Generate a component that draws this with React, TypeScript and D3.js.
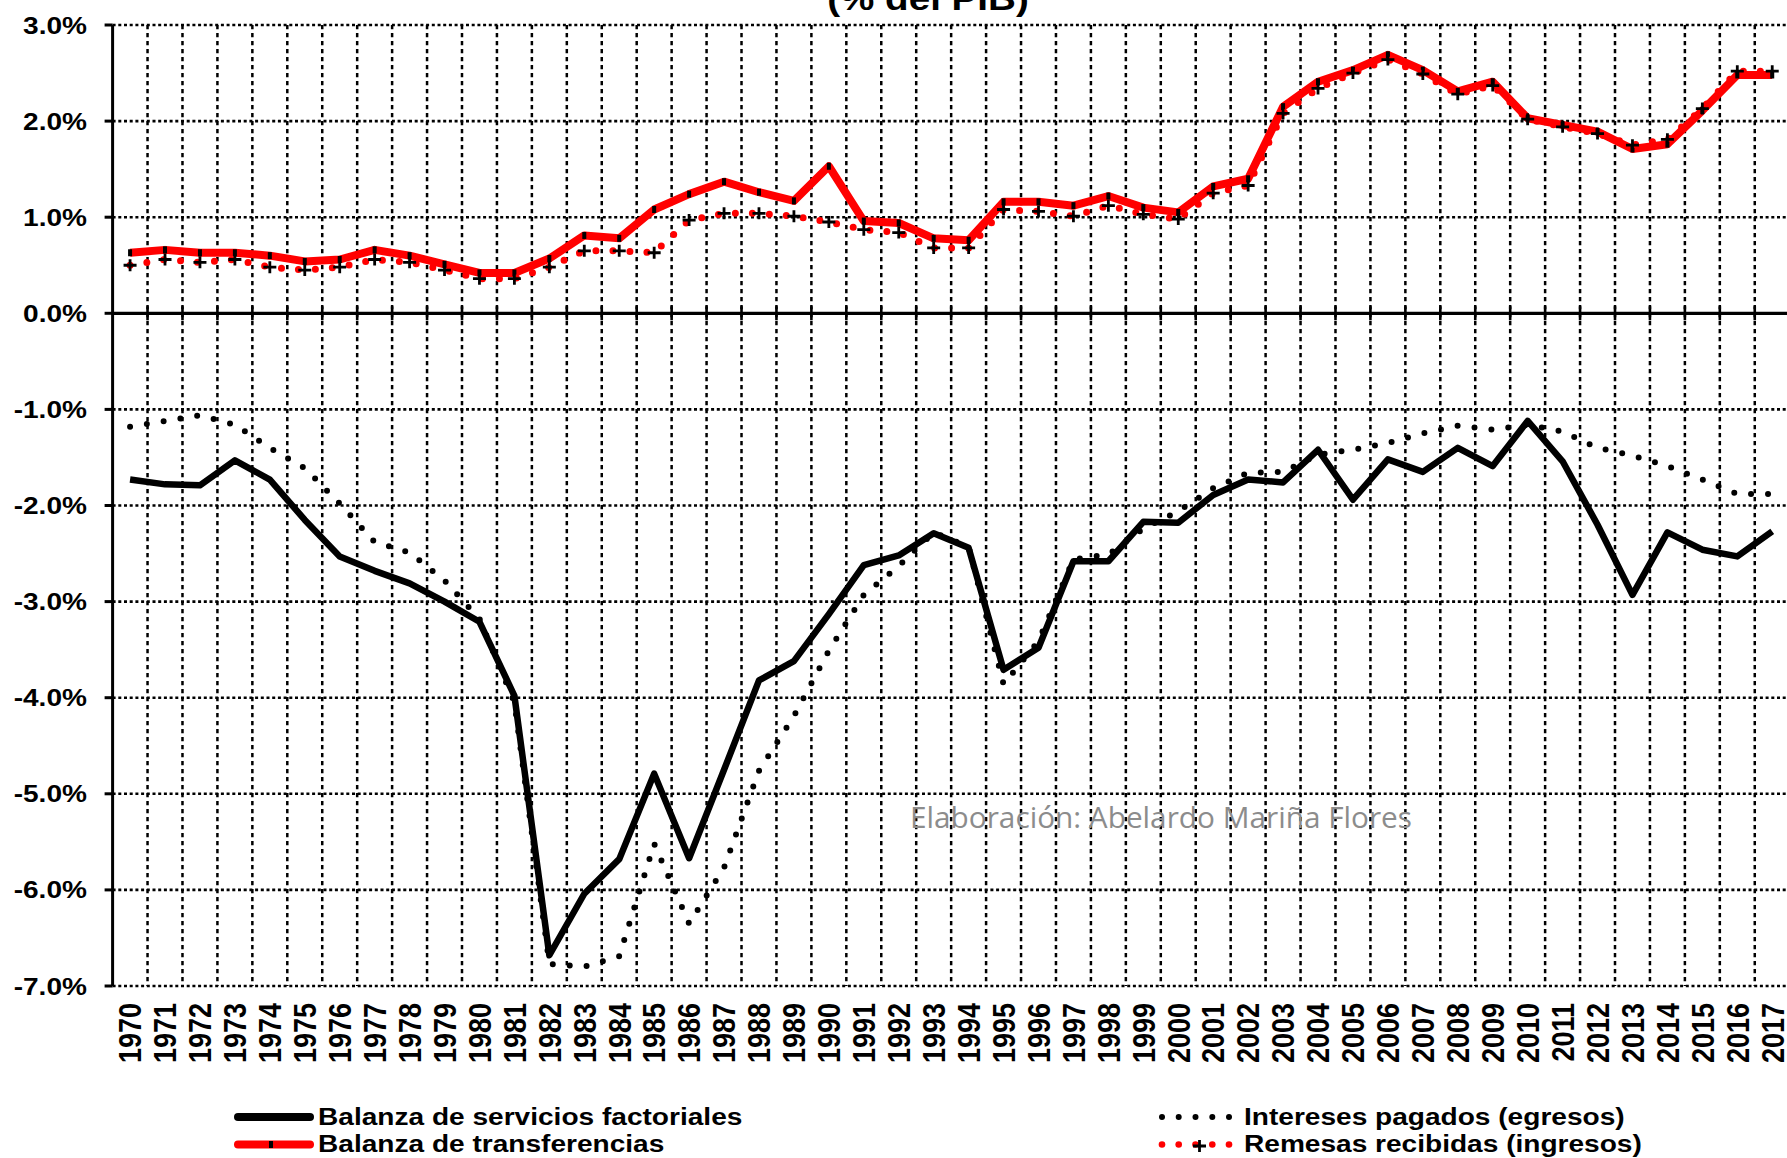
import React from "react";
import * as d3 from "d3";

const years = d3.range(1970, 2018).map(String);

// Balanza de servicios factoriales (% del PIB)
const servicios = [
  -1.73, -1.78, -1.79, -1.53, -1.73, -2.15, -2.53, -2.68, -2.81, -3.0,
  -3.21, -3.98, -6.68, -6.04, -5.68, -4.79, -5.67, -4.75, -3.82, -3.62,
  -3.13, -2.62, -2.52, -2.29, -2.44, -3.71, -3.48, -2.58, -2.58, -2.17,
  -2.18, -1.89, -1.73, -1.76, -1.42, -1.94, -1.52, -1.65, -1.4, -1.59,
  -1.12, -1.54, -2.2, -2.93, -2.28, -2.46, -2.53, -2.27,
];

// Balanza de transferencias
const transferencias = [
  0.63, 0.66, 0.63, 0.63, 0.6, 0.54, 0.56, 0.66, 0.6, 0.51,
  0.42, 0.42, 0.57, 0.81, 0.78, 1.08, 1.24, 1.37, 1.26, 1.17,
  1.53, 0.96, 0.94, 0.78, 0.76, 1.16, 1.16, 1.12, 1.22, 1.1,
  1.05, 1.32, 1.4, 2.15, 2.41, 2.53, 2.69, 2.53, 2.31, 2.41,
  2.03, 1.96, 1.89, 1.71, 1.76, 2.11, 2.48, 2.48,
];

// Intereses pagados (egresos)
const intereses = [
  -1.18, -1.12, -1.06, -1.16, -1.4, -1.61, -1.98, -2.38, -2.49, -2.78,
  -3.18, -4.05, -6.77, -6.8, -6.69, -5.52, -6.35, -5.77, -4.76, -4.19,
  -3.51, -2.93, -2.63, -2.28, -2.43, -3.86, -3.41, -2.56, -2.51, -2.24,
  -2.06, -1.82, -1.66, -1.65, -1.47, -1.42, -1.35, -1.25, -1.17, -1.21,
  -1.16, -1.23, -1.4, -1.48, -1.59, -1.73, -1.88, -1.88,
];

// Remesas recibidas (ingresos)
const remesas = [
  0.5, 0.56, 0.53, 0.56, 0.48, 0.45, 0.48, 0.56, 0.53, 0.45,
  0.36, 0.36, 0.48, 0.65, 0.65, 0.63, 0.97, 1.04, 1.04, 1.01,
  0.95, 0.87, 0.84, 0.68, 0.68, 1.08, 1.06, 1.01, 1.12, 1.03,
  0.98, 1.25, 1.33, 2.08, 2.34, 2.5, 2.64, 2.49, 2.28, 2.37,
  2.02, 1.94, 1.87, 1.75, 1.81, 2.13, 2.52, 2.52,
];

const yTicks = [3, 2, 1, 0, -1, -2, -3, -4, -5, -6, -7];

const W = 1787;
const H = 1158;
const FONT = "'Liberation Sans', Arial, sans-serif";
const SX = 1.17; // horizontal stretch of the original picture

const x = d3.scaleBand().domain(years).range([112.6, 1789.7]).padding(0);
const y = d3.scaleLinear().domain([-7, 3]).range([986, 25]);
const cx = (yr: string) => (x(yr) as number) + x.bandwidth() / 2;

const lineGen = d3
  .line<number>()
  .x((_, i) => cx(years[i]))
  .y((d) => y(d));

const App = () => {
  const left = x.range()[0];
  const boundaries = years.slice(1).map((yr) => x(yr) as number);
  return (
    <svg
      width={W}
      height={H}
      style={{ position: "absolute", left: 0, top: 0, background: "#fff" }}
      fontFamily={FONT}
    >
      {/* title, cut off at top */}
      <g transform={`translate(928,10) scale(${SX},1)`}>
        <text textAnchor="middle" fontSize={33} fontWeight="bold">
          (% del PIB)
        </text>
      </g>

      {/* horizontal gridlines */}
      {yTicks.map((t) => (
        <line
          key={"h" + t}
          x1={left}
          x2={W}
          y1={y(t)}
          y2={y(t)}
          stroke="#000"
          strokeWidth={2.6}
          strokeDasharray="3 2.7"
        />
      ))}
      {/* vertical gridlines */}
      {boundaries.map((bx, i) => (
        <line
          key={"v" + i}
          x1={bx}
          x2={bx}
          y1={y(3)}
          y2={y(-7)}
          stroke="#000"
          strokeWidth={2.5}
          strokeDasharray="4.3 3.7"
        />
      ))}

      {/* zero axis with crossing ticks */}
      <line x1={left} x2={W} y1={y(0)} y2={y(0)} stroke="#000" strokeWidth={3.2} />
      {boundaries.map((bx, i) => (
        <line key={"zt" + i} x1={bx} x2={bx} y1={y(0) - 7} y2={y(0) + 7} stroke="#000" strokeWidth={2.6} />
      ))}

      {/* y axis */}
      <line x1={left} x2={left} y1={y(3)} y2={y(-7)} stroke="#000" strokeWidth={3} />
      {yTicks.map((t) => (
        <g key={"yt" + t}>
          <line x1={left - 8} x2={left} y1={y(t)} y2={y(t)} stroke="#000" strokeWidth={3} />
          <g transform={`translate(87,${y(t) + 8.5}) scale(${SX},1)`}>
            <text textAnchor="end" fontSize={24} fontWeight="bold">
              {t.toFixed(1) + "%"}
            </text>
          </g>
        </g>
      ))}

      {/* x labels */}
      {years.map((yr) => (
        <g key={"xl" + yr} transform={`translate(${cx(yr) + 11.3},1003) scale(${SX},1) rotate(-90)`}>
          <text textAnchor="end" fontSize={27} fontWeight="bold">
            {yr}
          </text>
        </g>
      ))}

      {/* watermark */}
      <text
        x={910}
        y={828}
        fontSize={30}
        fill="#8c8c8c"
        fontFamily="'Open Sans', 'Liberation Sans', sans-serif"
        textLength={502}
        lengthAdjust="spacingAndGlyphs"
      >
        Elaboración: Abelardo Mariña Flores
      </text>

      {/* series */}
      <path d={lineGen(servicios) ?? ""} fill="none" stroke="#000" strokeWidth={6.5} strokeLinejoin="round" />
      <path d={lineGen(transferencias) ?? ""} fill="none" stroke="#ff0000" strokeWidth={8} strokeLinejoin="round" />
      {transferencias.map((v, i) => (
        <rect key={"tm" + i} x={cx(years[i]) - 2} y={y(v) - 3.5} width={4} height={7} fill="#000" />
      ))}
      <path
        d={lineGen(intereses) ?? ""}
        fill="none"
        stroke="#000"
        strokeWidth={6}
        strokeLinecap="round"
        strokeDasharray="0 17"
      />
      <path
        d={lineGen(remesas) ?? ""}
        fill="none"
        stroke="#ff0000"
        strokeWidth={7}
        strokeLinecap="round"
        strokeDasharray="0 17"
      />
      {remesas.map((v, i) => (
        <path
          key={"rm" + i}
          d={`M${cx(years[i]) - 6.5},${y(v)}h13M${cx(years[i])},${y(v) - 6}v12`}
          stroke="#000"
          strokeWidth={2.8}
        />
      ))}

      {/* legend */}
      <line x1={238} x2={310} y1={1117} y2={1117} stroke="#000" strokeWidth={8} strokeLinecap="round" />
      <line x1={238} x2={310} y1={1144.5} y2={1144.5} stroke="#ff0000" strokeWidth={8} strokeLinecap="round" />
      <rect x={269} y={1141} width={4} height={7} fill="#000" />
      <g transform={`translate(318,1125) scale(${SX},1)`}>
        <text fontSize={24} fontWeight="bold">Balanza de servicios factoriales</text>
      </g>
      <g transform={`translate(318,1152) scale(${SX},1)`}>
        <text fontSize={24} fontWeight="bold">Balanza de transferencias</text>
      </g>

      {[1162, 1178.7, 1195.5, 1212.3, 1229].map((dx, i) => (
        <g key={"ld" + i}>
          <circle cx={dx} cy={1117} r={3} fill="#000" />
          <circle cx={dx} cy={1144.5} r={3.3} fill="#ff0000" />
        </g>
      ))}
      <path d="M1193,1146h13M1199.5,1140v12" stroke="#000" strokeWidth={2.8} />
      <g transform={`translate(1244,1125) scale(${SX},1)`}>
        <text fontSize={24} fontWeight="bold">Intereses pagados (egresos)</text>
      </g>
      <g transform={`translate(1244,1152) scale(${SX},1)`}>
        <text fontSize={24} fontWeight="bold">Remesas recibidas (ingresos)</text>
      </g>
    </svg>
  );
};

export default App;
